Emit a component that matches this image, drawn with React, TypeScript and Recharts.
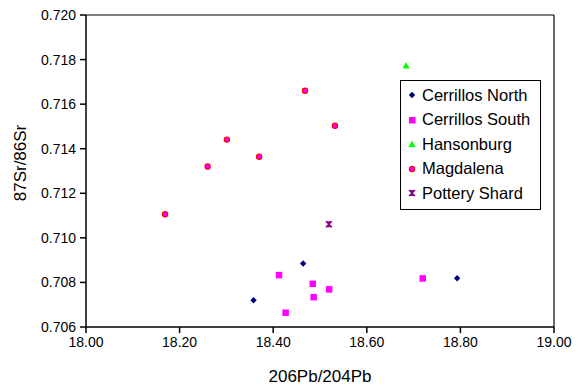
import { ScatterChart, Scatter, XAxis, YAxis, Legend, ReferenceLine } from 'recharts'

const X_TICKS = [18.0, 18.2, 18.4, 18.6, 18.8, 19.0]
const Y_TICKS = [0.706, 0.708, 0.71, 0.712, 0.714, 0.716, 0.718, 0.72]

const cerrillosNorth = [
    { x: 18.464, y: 0.70885 },
    { x: 18.358, y: 0.7072 },
    { x: 18.793, y: 0.70819 },
]
const cerrillosSouth = [
    { x: 18.412, y: 0.70834 },
    { x: 18.484, y: 0.70795 },
    { x: 18.486, y: 0.70735 },
    { x: 18.426, y: 0.70665 },
    { x: 18.519, y: 0.7077 },
    { x: 18.719, y: 0.70819 },
]
const hansonburg = [{ x: 18.684, y: 0.71773 }]
const magdalena = [
    { x: 18.468, y: 0.7166 },
    { x: 18.301, y: 0.71441 },
    { x: 18.37, y: 0.71364 },
    { x: 18.26, y: 0.7132 },
    { x: 18.169, y: 0.71106 },
    { x: 18.532, y: 0.71503 },
]
const potteryShard = [{ x: 18.519, y: 0.71061 }]

const FONT = 'Arial, "Liberation Sans", sans-serif'

type Pt = { cx?: number; cy?: number }

const Diamond = ({ cx = 0, cy = 0 }: Pt) => (
    <polygon points={`${cx},${cy - 3.2} ${cx + 3.2},${cy} ${cx},${cy + 3.2} ${cx - 3.2},${cy}`} fill="#000080" />
)
const Square = ({ cx = 0, cy = 0 }: Pt) => (
    <rect x={cx - 3} y={cy - 3} width={6.5} height={6.5} fill="#ff00ff" />
)
const Triangle = ({ cx = 0, cy = 0 }: Pt) => (
    <polygon points={`${cx},${cy - 3.5} ${cx + 3.5},${cy + 3} ${cx - 3.5},${cy + 3}`} fill="#00ff00" />
)
const Circle = ({ cx = 0, cy = 0 }: Pt) => (
    <circle cx={cx} cy={cy} r={2.6} fill="#ff00ff" stroke="#ff0000" strokeWidth={1.2} />
)
const Hourglass = ({ cx = 0, cy = 0 }: Pt) => (
    <g>
        <polygon points={`${cx - 3},${cy - 3} ${cx + 3},${cy - 3} ${cx - 3},${cy + 3} ${cx + 3},${cy + 3}`} fill="#990099" />
        <path d={`M${cx - 3},${cy - 3}L${cx + 3},${cy + 3}M${cx + 3},${cy - 3}L${cx - 3},${cy + 3}`} stroke="#800080" strokeWidth={1.3} />
    </g>
)

const SERIES = [
    { name: 'Cerrillos North', data: cerrillosNorth, shape: Diamond },
    { name: 'Cerrillos South', data: cerrillosSouth, shape: Square },
    { name: 'Hansonburg', data: hansonburg, shape: Triangle },
    { name: 'Magdalena', data: magdalena, shape: Circle },
    { name: 'Pottery Shard', data: potteryShard, shape: Hourglass },
]

function LegendBox() {
    return (
        <div
            style={{
                border: '1px solid #000',
                background: '#fff',
                padding: '2px 0 3px 0',
                fontFamily: FONT,
                fontSize: 16.5,
                color: '#000',
            }}
        >
            {SERIES.map((s) => {
                const Shape = s.shape
                return (
                    <div key={s.name} style={{ display: 'flex', alignItems: 'center', height: 24.5 }}>
                        <svg width={20} height={14} style={{ marginLeft: 1 }}>
                            <Shape cx={10} cy={7} />
                        </svg>
                        <span>{s.name}</span>
                    </div>
                )
            })}
        </div>
    )
}

const YLabel = ({ viewBox }: any) => {
    const cx = viewBox.x + 20
    const cy = viewBox.y + viewBox.height / 2 - 8
    return (
        <text x={cx} y={cy} transform={`rotate(-90, ${cx}, ${cy})`} textAnchor="middle" dominantBaseline="central" fontSize={17} fontFamily={FONT} fill="#000">
            87Sr/86Sr
        </text>
    )
}

export default function App() {
    return (
        <div style={{ position: 'absolute', left: 0, top: 0, background: '#fff' }}>
            <ScatterChart width={578} height={387} margin={{ top: 15, right: 24, bottom: 0, left: 0 }}>
                <XAxis
                    type="number"
                    dataKey="x"
                    domain={[18, 19]}
                    ticks={X_TICKS}
                    tickFormatter={(v: number) => v.toFixed(2)}
                    height={60}
                    stroke="#000"
                    strokeWidth={1.5}
                    tickSize={6}
                    tickMargin={4}
                    tick={{ fontSize: 14, fontFamily: FONT, fill: '#000' }}
                    label={{ value: '206Pb/204Pb', position: 'insideBottom', offset: 5, fontSize: 17, fontFamily: FONT, fill: '#000' }}
                />
                <YAxis
                    type="number"
                    dataKey="y"
                    domain={[0.706, 0.72]}
                    ticks={Y_TICKS}
                    tickFormatter={(v: number) => v.toFixed(3)}
                    width={86}
                    stroke="#000"
                    strokeWidth={1.5}
                    tickSize={6}
                    tickMargin={4}
                    tick={{ fontSize: 14, fontFamily: FONT, fill: '#000' }}
                    label={<YLabel />}
                />
                <ReferenceLine y={0.72} stroke="#000" strokeWidth={1.2} />
                <ReferenceLine x={19} stroke="#000" strokeWidth={1.2} />
                <Legend
                    layout="horizontal"
                    verticalAlign="middle"
                    align="center"
                    content={() => <LegendBox />}
                    wrapperStyle={{ left: 400, top: 80, width: 141 }}
                />
                {SERIES.map((s) => (
                    <Scatter key={s.name} name={s.name} data={s.data} shape={<s.shape />} isAnimationActive={false} />
                ))}
            </ScatterChart>
        </div>
    )
}
